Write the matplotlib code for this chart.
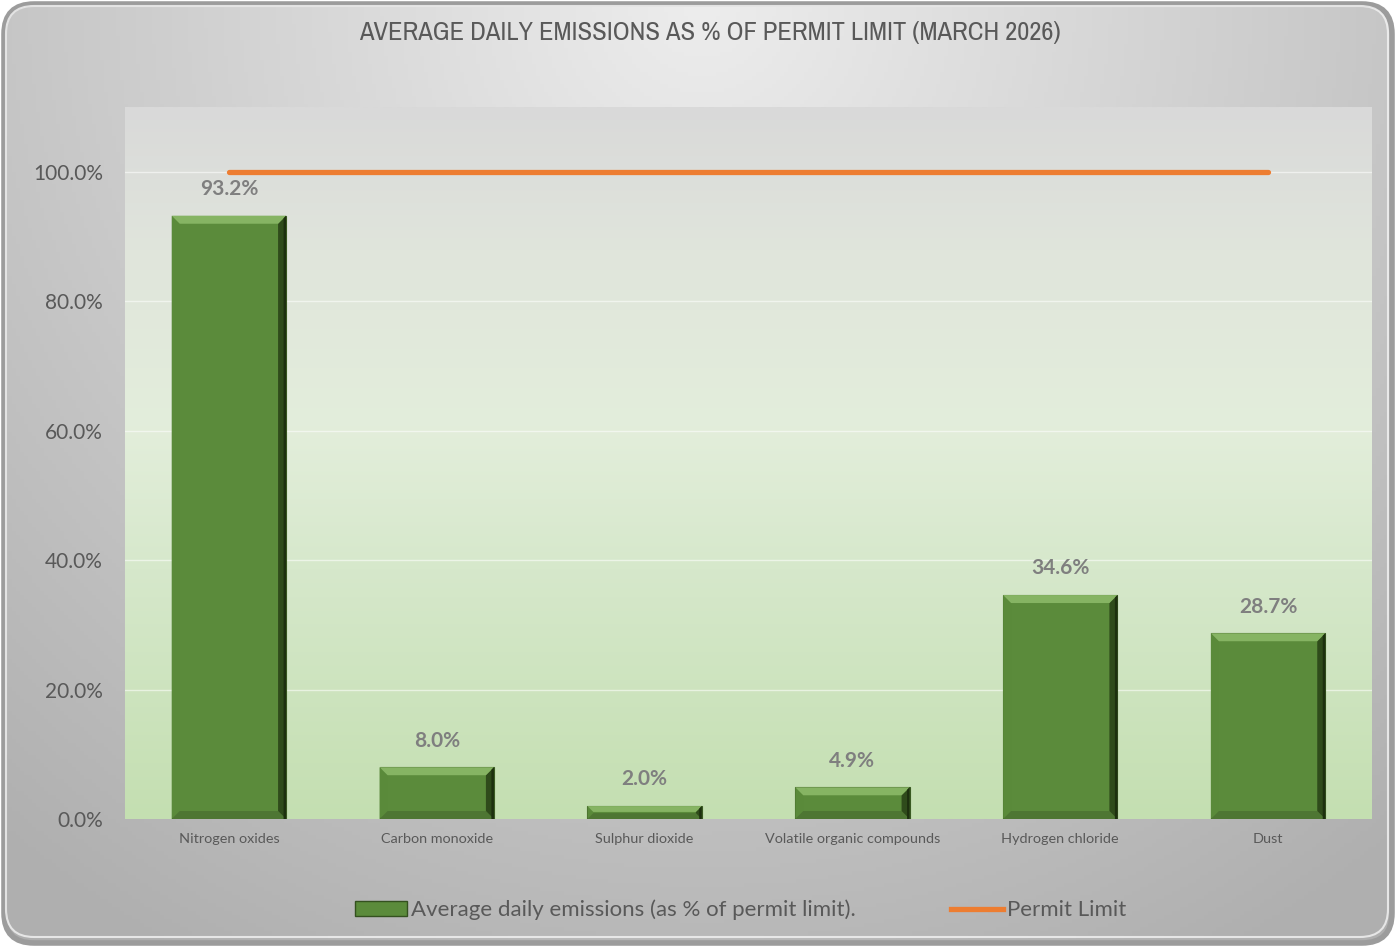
import numpy as np
import matplotlib
matplotlib.use("Agg")
import matplotlib.pyplot as plt
from matplotlib import font_manager
from matplotlib.patches import Patch, Polygon, FancyBboxPatch
from matplotlib.lines import Line2D
from matplotlib.colors import LinearSegmentedColormap

# ---- data ----
categories = ["Nitrogen oxides", "Carbon monoxide", "Sulphur dioxide",
              "Volatile organic compounds", "Hydrogen chloride", "Dust"]
emissions_pct = [93.2, 8.0, 2.0, 4.9, 34.6, 28.7]
permit_limit = [100, 100, 100, 100, 100, 100]
y_ticks = [0, 20, 40, 60, 80, 100]
title = "AVERAGE DAILY EMISSIONS AS % OF PERMIT LIMIT (MARCH 2026)"
bar_label = "Average daily emissions (as % of permit limit)."
line_label = "Permit Limit"

# find a narrow font for the title
narrow = None
for f in font_manager.fontManager.ttflist:
    if "Narrow" in f.name and f.weight in (400, "normal", "regular") and f.style == "normal":
        narrow = f.name
        break
if narrow is None:
    for f in font_manager.fontManager.ttflist:
        if "Condensed" in f.name or f.stretch in ("condensed", "semi-condensed"):
            narrow = f.name
            break
title_family = [narrow, "DejaVu Sans"] if narrow else ["DejaVu Sans"]

W, H = 1400, 951
fig = plt.figure(figsize=(W / 100, H / 100), dpi=100)
fig.patch.set_facecolor("white")

# ---- figure background (rounded grey gradient panel) ----
bg = fig.add_axes([0, 0, 1, 1])
bg.set_xlim(0, W)
bg.set_ylim(H, 0)
bg.axis("off")
yy, xx = np.mgrid[0:H:4, 0:W:4]
d = np.sqrt(((xx - 700) / 900.0) ** 2 + ((yy - 0) / 900.0) ** 2)
val = 0.93 - 0.20 * np.clip(d, 0, 1.2)
img = np.dstack([val, val, val])
frame = FancyBboxPatch((4, 4), W - 12, H - 12,
                       boxstyle="round,pad=0,rounding_size=30",
                       facecolor="none", edgecolor="#9c9c9c", linewidth=4)
bg.add_patch(frame)
im = bg.imshow(img, extent=(0, W, H, 0), aspect="auto", zorder=0)
im.set_clip_path(frame)
inner = FancyBboxPatch((6, 6), W - 18, H - 20,
                       boxstyle="round,pad=0,rounding_size=28",
                       facecolor="none", edgecolor="#f4f4f4", linewidth=1.5, alpha=0.8)
bg.add_patch(inner)

title_txt = fig.text(0.507, 1 - 33 / H, title, ha="center", va="center",
                     fontsize=17.5, color="#595959", family=title_family)

# ---- main axes ----
left, right, top, bottom = 125, 1372, 107, 819
ax = fig.add_axes([left / W, 1 - bottom / H, (right - left) / W, (bottom - top) / H])
ax.set_xlim(-0.5, len(categories) - 0.5)
ax.set_ylim(0, 110)

grad_cmap = LinearSegmentedColormap.from_list(
    "pa", [(0.0, "#c4dfb1"), (0.35, "#d6e8cb"), (0.55, "#e3eedb"),
           (0.8, "#e0e5dc"), (1.0, "#d9d9d9")])
g = np.linspace(0, 1, 256).reshape(-1, 1)
ax.imshow(g, extent=(-0.5, len(categories) - 0.5, 0, 110), origin="lower",
          aspect="auto", cmap=grad_cmap, zorder=0)

for t in y_ticks[1:]:
    ax.axhline(t, color="white", alpha=0.55, lw=1.0, zorder=1)

x = np.arange(len(categories))
bars = ax.bar(x, emissions_pct, width=0.55, color="#5b8b3b",
              edgecolor="#3a5a22", linewidth=0.8, zorder=2)

# bevel on each bar
fig.canvas.draw()
# fit title width to the reference (~704 px)
bb = title_txt.get_window_extent()
title_txt.set_fontsize(17.5 * 704.0 / bb.width)

inv = ax.transData.inverted()
bev = 8
for b in bars:
    x0, y0 = ax.transData.transform((b.get_x(), 0))
    x1, y1 = ax.transData.transform((b.get_x() + b.get_width(), b.get_height()))
    bw = min(bev, (y1 - y0) / 2.2)
    pts = [
        ([(x0, y0), (x0, y1), (x0 + bw, y1 - bw), (x0 + bw, y0 + bw)], "#5a8a3a"),
        ([(x0, y0), (x1, y0), (x1 - bw, y0 + bw), (x0 + bw, y0 + bw)], "#4e7633"),
        ([(x1, y0), (x1, y1), (x1 - bw, y1 - bw), (x1 - bw, y0 + bw)], "#2f4b1b"),
        ([(x0, y1), (x1, y1), (x1 - bw, y1 - bw), (x0 + bw, y1 - bw)], "#86b463"),
    ]
    for poly, col in pts:
        ax.add_patch(Polygon(inv.transform(poly), closed=True, facecolor=col,
                             edgecolor="none", zorder=3))
    # dark outer right edge line
    ax.add_patch(Polygon(inv.transform([(x1 - 2.5, y0), (x1, y0), (x1, y1), (x1 - 2.5, y1 - 2.5)]),
                         closed=True, facecolor="#1d300f", edgecolor="none", zorder=3))

for xi, v in zip(x, emissions_pct):
    ax.annotate(f"{v:.1f}%", (xi, v), xytext=(0, 12), textcoords="offset points",
                ha="center", va="bottom", fontsize=15, fontweight="bold",
                color="#7f7f7f", family=["Lato", "DejaVu Sans"], zorder=5)

ax.plot(x, permit_limit, color="#ed7d31", lw=3.8, solid_capstyle="round", zorder=4)

ax.set_yticks(y_ticks)
ax.set_yticklabels([f"{t:.1f}%" for t in y_ticks])
ax.set_xticks(x)
ax.set_xticklabels(categories)
ax.tick_params(axis="y", length=0, pad=16, labelsize=15, labelcolor="#595959")
ax.tick_params(axis="x", length=0, pad=10, labelsize=10.4, labelcolor="#595959")
for lab in ax.get_xticklabels() + ax.get_yticklabels():
    lab.set_family(["Lato", "DejaVu Sans"])
for s in ax.spines.values():
    s.set_visible(False)

handles = [Patch(facecolor="#5b8b3b", edgecolor="#34511f", label=bar_label),
           Line2D([0], [0], color="#ed7d31", lw=3.8, label=line_label)]
leg = fig.legend(handles=handles, loc="center", bbox_to_anchor=(0.529, 1 - 910 / H),
                 ncol=2, frameon=False, handlelength=2.35,
                 handleheight=0.6, handletextpad=0.2, columnspacing=4.25,
                 prop={"family": ["Lato", "DejaVu Sans"], "size": 16})
for t in leg.get_texts():
    t.set_color("#595959")

fig.savefig("out.png", dpi=100, facecolor="white")
